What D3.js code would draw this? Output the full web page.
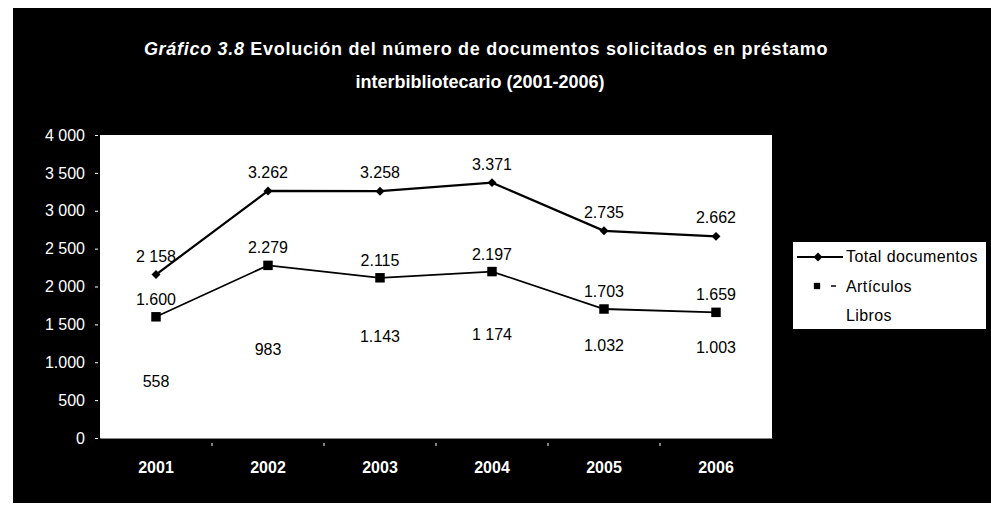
<!DOCTYPE html>
<html>
<head>
<meta charset="utf-8">
<script src="https://cdn.jsdelivr.net/npm/d3@7.9.0/dist/d3.min.js"></script>
<style>
  body { margin: 0; background: #fff; }
  svg { display: block; font-family: 'Liberation Sans', Arial, sans-serif; }
</style>
</head>
<body>
<svg id="chart"></svg>
<script>
// values
let years = ['2001', '2002', '2003', '2004', '2005', '2006'];
let totalDocs = [2158, 3262, 3258, 3371, 2735, 2662];
let totalLabels = ['2 158', '3.262', '3.258', '3.371', '2.735', '2.662'];
let articulos = [1600, 2279, 2115, 2197, 1703, 1659];
let articulosLabels = ['1.600', '2.279', '2.115', '2.197', '1.703', '1.659'];
let libros = [558, 983, 1143, 1174, 1032, 1003];
let librosLabels = ['558', '983', '1.143', '1 174', '1.032', '1.003'];
let yTicks = [0, 500, 1000, 1500, 2000, 2500, 3000, 3500, 4000];
let yTickLabels = ['0', '500', '1.000', '1 500', '2 000', '2 500', '3 000', '3 500', '4 000'];
let legendNames = ['Total documentos', 'Artículos', 'Libros'];

let W = 991, H = 507;
let svg = d3.select('#chart').attr('width', W).attr('height', H);

// dark frame of the scan
svg.append('rect')
  .attr('x', 13).attr('y', 8)
  .attr('width', W - 13).attr('height', 495)
  .attr('fill', '#000');

let plot = { left: 100, right: 772, top: 135, bottom: 438 };

let x = d3.scaleBand()
  .domain(years)
  .range([plot.left, plot.right]);

let y = d3.scaleLinear()
  .domain([0, 4000])
  .range([plot.bottom, plot.top]);

svg.append('rect')
  .attr('x', plot.left).attr('y', plot.top)
  .attr('width', plot.right - plot.left)
  .attr('height', plot.bottom - plot.top)
  .attr('fill', '#fff');

// title
let title = svg.append('text')
  .attr('text-anchor', 'middle')
  .attr('fill', '#fff')
  .attr('font-weight', 'bold')
  .attr('font-size', 18);
let t1 = title.append('tspan').attr('x', 486).attr('y', 55).attr('letter-spacing', 0.7);
t1.append('tspan').attr('font-style', 'italic').text('Gráfico 3.8');
t1.append('tspan').text(' Evolución del número de documentos solicitados en préstamo');
title.append('tspan')
  .attr('x', 480).attr('y', 88)
  .text('interbibliotecario (2001-2006)');

// y axis
let yAxis = svg.append('g')
  .attr('transform', `translate(${plot.left - 2},0)`)
  .call(d3.axisLeft(y)
    .tickValues(yTicks)
    .tickFormat((d, i) => yTickLabels[i])
    .tickSize(3)
    .tickPadding(10));
yAxis.select('.domain').remove();
yAxis.selectAll('line').attr('stroke', '#fff');
yAxis.selectAll('text')
  .attr('fill', '#fff')
  .attr('font-size', 16)
  .attr('font-family', 'Liberation Sans, Arial, sans-serif');

// x axis: labels under each year, small ticks on the band edges
let xAxis = svg.append('g')
  .attr('transform', `translate(0,${plot.bottom})`)
  .call(d3.axisBottom(x).tickSize(0).tickPadding(24));
xAxis.select('.domain').attr('stroke', '#888');
xAxis.selectAll('text')
  .attr('fill', '#fff')
  .attr('font-size', 16)
  .attr('font-weight', 'bold')
  .attr('font-family', 'Liberation Sans, Arial, sans-serif');

svg.append('g')
  .selectAll('line')
  .data(years.slice(1))
  .join('line')
  .attr('x1', d => x(d)).attr('x2', d => x(d))
  .attr('y1', plot.bottom + 5).attr('y2', plot.bottom + 8)
  .attr('stroke', '#fff');

let cx = d => x(d) + x.bandwidth() / 2;

let line = d3.line()
  .x(d => cx(d[0]))
  .y(d => y(d[1]));

let diamond = d3.symbol().type(d3.symbolSquare).size(40);
let square = d3.symbol().type(d3.symbolSquare).size(90);

// Total documentos
svg.append('path')
  .datum(d3.zip(years, totalDocs))
  .attr('d', line)
  .attr('fill', 'none')
  .attr('stroke', '#000')
  .attr('stroke-width', 2.2);

svg.append('g')
  .selectAll('path')
  .data(d3.zip(years, totalDocs))
  .join('path')
  .attr('d', diamond)
  .attr('transform', d => `translate(${cx(d[0])},${y(d[1])}) rotate(45)`)
  .attr('fill', '#000');

// Artículos
svg.append('path')
  .datum(d3.zip(years, articulos))
  .attr('d', line)
  .attr('fill', 'none')
  .attr('stroke', '#000')
  .attr('stroke-width', 1.8);

svg.append('g')
  .selectAll('path')
  .data(d3.zip(years, articulos))
  .join('path')
  .attr('d', square)
  .attr('transform', d => `translate(${cx(d[0])},${y(d[1])})`)
  .attr('fill', '#000');

// data labels (Libros only has labels, no line or marker)
let labelSets = [
  { values: totalDocs, labels: totalLabels, dy: -13 },
  { values: articulos, labels: articulosLabels, dy: -12 },
  { values: libros, labels: librosLabels, dy: -9 }
];

labelSets.forEach(s => {
  svg.append('g')
    .selectAll('text')
    .data(d3.zip(years, s.values, s.labels))
    .join('text')
    .attr('x', d => cx(d[0]))
    .attr('y', d => y(d[1]) + s.dy)
    .attr('text-anchor', 'middle')
    .attr('font-size', 16)
    .attr('fill', '#000')
    .text(d => d[2]);
});

// legend
let lg = svg.append('g').attr('transform', 'translate(793,242)');
lg.append('rect')
  .attr('width', 193).attr('height', 87)
  .attr('fill', '#fff');

lg.append('line')
  .attr('x1', 4).attr('x2', 50)
  .attr('y1', 15).attr('y2', 15)
  .attr('stroke', '#000').attr('stroke-width', 2);
lg.append('path')
  .attr('d', diamond)
  .attr('transform', 'translate(25,15) rotate(45)')
  .attr('fill', '#000');

lg.append('path')
  .attr('d', d3.symbol().type(d3.symbolSquare).size(40))
  .attr('transform', 'translate(24,44)')
  .attr('fill', '#000');
lg.append('line')
  .attr('x1', 38).attr('x2', 43)
  .attr('y1', 44).attr('y2', 44)
  .attr('stroke', '#000').attr('stroke-width', 1.5);

lg.selectAll('text.name')
  .data(legendNames)
  .join('text')
  .attr('class', 'name')
  .attr('x', 53)
  .attr('y', (d, i) => 20 + i * 29.5)
  .attr('font-size', 16)
  .attr('letter-spacing', 0.4)
  .attr('fill', '#000')
  .text(d => d);
</script>
</body>
</html>
